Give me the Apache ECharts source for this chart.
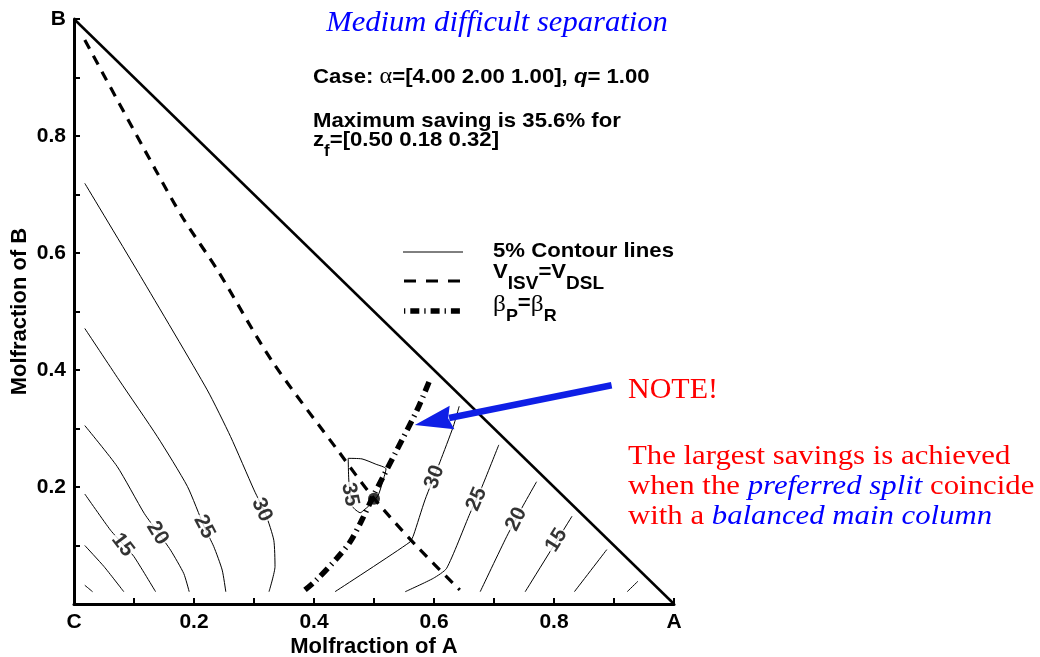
<!DOCTYPE html>
<html>
<head>
<meta charset="utf-8">
<script src="https://cdn.jsdelivr.net/npm/echarts@6/dist/echarts.min.js"></script>
<style>
  html, body { margin: 0; padding: 0; background: #fff; }
  #chart { width: 1040px; height: 657px; }
</style>
</head>
<body>
<div id="chart"></div>
<script>
// ---- axis tick labels (value -> text) ----
const xTickLabels = [[0, 'C'], [0.2, '0.2'], [0.4, '0.4'], [0.6, '0.6'], [0.8, '0.8'], [1, 'A']];
const yTickLabels = [[0.2, '0.2'], [0.4, '0.4'], [0.6, '0.6'], [0.8, '0.8'], [1, 'B']];

// ---- triangle edge between pure B and pure A ----
const edgeBA = [[0, 1], [1, 0]];

// ---- 5% saving contours, [x_A, x_B] ----
const left30 = [[0.018, 0.719], [0.111, 0.560], [0.222, 0.366], [0.261, 0.286], [0.300, 0.195], [0.320, 0.152], [0.333, 0.109], [0.335, 0.064], [0.325, 0.021]];
const left25 = [[0.018, 0.471], [0.075, 0.383], [0.139, 0.286], [0.189, 0.201], [0.217, 0.132], [0.233, 0.098], [0.247, 0.058], [0.253, 0.021]];
const left20 = [[0.018, 0.305], [0.072, 0.235], [0.117, 0.155], [0.141, 0.121], [0.161, 0.092], [0.183, 0.052], [0.192, 0.021]];
const left15 = [[0.018, 0.188], [0.061, 0.126], [0.083, 0.101], [0.100, 0.081], [0.136, 0.021]];
const left10 = [[0.018, 0.100], [0.050, 0.064], [0.083, 0.021]];
const left5 = [[0.018, 0.032], [0.031, 0.021]];
const right30 = [[0.435, 0.021], [0.560, 0.106], [0.566, 0.118], [0.585, 0.178], [0.610, 0.243], [0.632, 0.303], [0.642, 0.338]];
const right25 = [[0.552, 0.021], [0.599, 0.044], [0.621, 0.061], [0.660, 0.155], [0.679, 0.198], [0.708, 0.272]];
const right20 = [[0.677, 0.021], [0.721, 0.115], [0.749, 0.169], [0.771, 0.209]];
const right15 = [[0.752, 0.021], [0.830, 0.150]];
const right10 = [[0.834, 0.021], [0.888, 0.093]];
const right5 = [[0.922, 0.021], [0.940, 0.039]];
const peak35 = [[0.457, 0.249], [0.480, 0.248], [0.503, 0.239], [0.520, 0.231], [0.513, 0.204], [0.507, 0.186], [0.497, 0.173], [0.485, 0.162], [0.477, 0.156], [0.468, 0.162], [0.463, 0.169], [0.458, 0.212], [0.457, 0.249]];

// ---- contour labels: level, point on the contour ----
const contourLabels = [
  { level: 15, at: [0.081, 0.101], line: left15 },
  { level: 20, at: [0.139, 0.121], line: left20 },
  { level: 25, at: [0.217, 0.132], line: left25 },
  { level: 30, at: [0.313, 0.161], line: left30 },
  { level: 35, at: [0.460, 0.187], line: peak35 },
  { level: 30, at: [0.601, 0.217], line: right30 },
  { level: 25, at: [0.671, 0.179], line: right25 },
  { level: 20, at: [0.737, 0.145], line: right20 },
  { level: 15, at: [0.804, 0.109], line: right15 }
];

// ---- boundary where the two vapour flows are equal ----
const vEqual = [[0.018, 0.964], [0.136, 0.742], [0.182, 0.659], [0.239, 0.571], [0.329, 0.417], [0.443, 0.258], [0.498, 0.183], [0.570, 0.100], [0.643, 0.024]];
// ---- balanced main column, beta_P = beta_R ----
const betaEqual = [[0.385, 0.024], [0.404, 0.041], [0.438, 0.078], [0.460, 0.106], [0.480, 0.144], [0.498, 0.183], [0.515, 0.217], [0.538, 0.263], [0.572, 0.332], [0.593, 0.383]];

// ---- feed composition z_f ----
const feedPoint = [[0.50, 0.18]];

// ---- arrow from the note to the balanced-column line ----
const arrowFrom = [0.896, 0.374];
const arrowTo = [0.568, 0.306];

const SANS = "'Liberation Sans', Arial, Helvetica, sans-serif";
const SERIF = "'Liberation Serif', 'Times New Roman', serif";
const WIDE = 1.055;   // horizontal stretch of the bold annotation text

function tickFormatter(table) {
  return function (v) {
    for (const [t, s] of table) if (Math.abs(v - t) < 1e-6) return s;
    return '';
  };
}

const chart = echarts.init(document.getElementById('chart'), null, { renderer: 'canvas' });

const contourSeries = [left30, left25, left20, left15, left10, left5,
  right30, right25, right20, right15, right10, right5, peak35].map(function (pts) {
  return {
    type: 'line', data: pts, showSymbol: false, silent: true,
    lineStyle: { color: '#000', width: 1 }, smooth: 0.2, z: 2
  };
});

function axisBase() {
  return {
    type: 'value', min: 0, max: 1, interval: 0.1,
    axisLine: { show: true, onZero: false, lineStyle: { color: '#000', width: 3 } },
    axisTick: { show: true, inside: true, length: 6, lineStyle: { color: '#000', width: 2 } },
    splitLine: { show: false },
    axisLabel: { color: '#000', fontFamily: SANS, fontWeight: 'bold', fontSize: 21, margin: 8 },
    nameMoveOverlap: false,
    nameTextStyle: { color: '#000', fontFamily: SANS, fontWeight: 'bold', fontSize: 22 }
  };
}

const xAxis = axisBase();
xAxis.axisLabel.formatter = tickFormatter(xTickLabels);
xAxis.name = 'Molfraction of A';
xAxis.nameLocation = 'middle';
xAxis.nameGap = 32;

const yAxis = axisBase();
yAxis.axisLabel.formatter = tickFormatter(yTickLabels);
yAxis.name = 'Molfraction of B';
yAxis.nameLocation = 'middle';
yAxis.nameGap = 43;
yAxis.nameRotate = 90;

const option = {
  animation: false,
  backgroundColor: '#fff',
  grid: { left: 74, right: 366, top: 19, bottom: 53, containLabel: false, outerBoundsMode: 'none' },
  xAxis: xAxis,
  yAxis: yAxis,
  series: [
    {
      type: 'line', data: edgeBA, showSymbol: false, silent: true,
      lineStyle: { color: '#000', width: 2.5 }, z: 3
    }
  ].concat(contourSeries).concat([
    {
      type: 'line', data: vEqual, showSymbol: false, silent: true, smooth: 0.3,
      lineStyle: { color: '#000', width: 3.2, type: [10, 8] }, z: 4
    },
    {
      type: 'line', data: betaEqual, showSymbol: false, silent: true, smooth: 0.3,
      lineStyle: { color: '#000', width: 5.5, type: [10, 5, 1.3, 5] }, z: 5
    },
    {
      type: 'scatter', data: feedPoint, symbol: 'circle', symbolSize: 12, silent: true,
      itemStyle: { color: '#000' }, z: 6
    },
    {
      type: 'scatter', id: 'labels', symbolSize: 0, silent: true, z: 7,
      data: contourLabels.map(function (c) { return { value: c.at.concat([c.level]) }; }),
      label: {
        show: true, position: 'inside', formatter: function (p) { return String(p.value[2]); },
        color: '#000', fontFamily: SANS, fontWeight: 'bold', fontSize: 21,
        backgroundColor: '#fff', padding: [0, 1]
      }
    }
  ])
};

chart.setOption(option);

// label rotation follows the local direction of each contour
function toPx(p) { return chart.convertToPixel({ gridIndex: 0 }, p); }
function segAngle(line, at) {
  const p = toPx(at);
  let best = 0, bestD = Infinity;
  for (let i = 0; i < line.length - 1; i++) {
    const a = toPx(line[i]), b = toPx(line[i + 1]);
    const dx = b[0] - a[0], dy = b[1] - a[1];
    const len2 = dx * dx + dy * dy || 1;
    let t = ((p[0] - a[0]) * dx + (p[1] - a[1]) * dy) / len2;
    t = Math.max(0, Math.min(1, t));
    const qx = a[0] + t * dx - p[0], qy = a[1] + t * dy - p[1];
    const d = qx * qx + qy * qy;
    if (d < bestD) { bestD = d; best = i; }
  }
  const a = toPx(line[Math.max(0, best - 1)]), b = toPx(line[Math.min(line.length - 1, best + 1)]);
  let ang = -Math.atan2(b[1] - a[1], b[0] - a[0]) * 180 / Math.PI;
  if (ang > 90) ang -= 180;
  if (ang < -90) ang += 180;
  return ang;
}

// arrow in pixel space from its data anchors
const pFrom = toPx(arrowFrom), pTo = toPx(arrowTo);
const ux0 = pTo[0] - pFrom[0], uy0 = pTo[1] - pFrom[1];
const ul = Math.hypot(ux0, uy0);
const ux = ux0 / ul, uy = uy0 / ul, nx = -uy, ny = ux;
const headLen = 38, headHalf = 12;
const bx = pTo[0] - ux * headLen, by = pTo[1] - uy * headLen;
const ARROW_BLUE = '#0f1fe6';

// rich-text pieces: main text and lowered subscripts, both hung from the line top
const base = function (size) {
  return { fontFamily: SANS, fontWeight: 'bold', fontSize: size, lineHeight: size + 1, verticalAlign: 'top' };
};
const sub = function (size, drop) {
  return { fontFamily: SANS, fontWeight: 'bold', fontSize: size, lineHeight: size, padding: [drop, 0, 0, 0], verticalAlign: 'top' };
};

chart.setOption({
  series: [{
    id: 'labels',
    data: contourLabels.map(function (c) {
      return { value: c.at.concat([c.level]), label: { rotate: segAngle(c.line, c.at) } };
    })
  }],
  graphic: [
    // title
    { type: 'text', x: 497, y: 23, scaleX: 1.02, style: { text: 'Medium difficult separation', fill: '#0000ff', font: 'italic 30px ' + SERIF, align: 'center', verticalAlign: 'middle' } },
    // case description
    { type: 'text', x: 313, y: 77, scaleX: WIDE, style: {
      text: '{b|Case: }{g|\u03b1}{b|=[4.00 2.00 1.00], }{q|q}{b|= 1.00}',
      verticalAlign: 'middle', fill: '#000',
      rich: {
        b: { fontFamily: SANS, fontWeight: 'bold', fontSize: 21, fill: '#000' },
        g: { fontFamily: SERIF, fontSize: 23, fill: '#000' },
        q: { fontFamily: SANS, fontWeight: 'bold', fontStyle: 'italic', fontSize: 21, fill: '#000' }
      } } },
    { type: 'text', x: 313, y: 121, scaleX: WIDE, style: { text: 'Maximum saving is 35.6% for', font: 'bold 21px ' + SANS, fill: '#000', verticalAlign: 'middle' } },
    { type: 'text', x: 313, y: 130, scaleX: WIDE, style: {
      text: '{b|z}{s|f}{b|=[0.50 0.18 0.32]}', fill: '#000',
      rich: { b: base(21), s: sub(16, 14) } } },
    // legend samples
    { type: 'line', shape: { x1: 403, y1: 252, x2: 463, y2: 252 }, style: { stroke: '#000', lineWidth: 1 } },
    { type: 'line', shape: { x1: 404, y1: 281, x2: 464, y2: 281 }, style: { stroke: '#000', lineWidth: 3.2, lineDash: [12, 10] } },
    { type: 'line', shape: { x1: 404, y1: 311, x2: 464, y2: 311 }, style: { stroke: '#000', lineWidth: 5.5, lineDash: [1.3, 5, 9, 5] } },
    // legend texts
    { type: 'text', x: 493, y: 251, scaleX: WIDE, style: { text: '5% Contour lines', font: 'bold 21px ' + SANS, fill: '#000', verticalAlign: 'middle' } },
    { type: 'text', x: 493, y: 262, scaleX: WIDE, style: {
      text: '{b|V}{s|ISV}{b|=V}{s|DSL}', fill: '#000',
      rich: { b: base(21), s: sub(18, 13) } } },
    { type: 'text', x: 493, y: 293, scaleX: WIDE, style: {
      text: '{g|\u03b2}{s|P}{b|=}{g|\u03b2}{s|R}', fill: '#000',
      rich: {
        g: { fontFamily: SERIF, fontSize: 24, lineHeight: 24, verticalAlign: 'top' },
        b: { fontFamily: SANS, fontWeight: 'bold', fontSize: 21, lineHeight: 24, verticalAlign: 'top' },
        s: sub(17, 15)
      } } },
    // arrow
    { type: 'line', shape: { x1: pFrom[0], y1: pFrom[1], x2: bx + ux * 3, y2: by + uy * 3 }, style: { stroke: ARROW_BLUE, lineWidth: 6.5 }, z: 20 },
    { type: 'polygon', shape: { points: [[pTo[0], pTo[1]], [bx + nx * headHalf, by + ny * headHalf], [bx + ux * 4, by + uy * 4], [bx - nx * headHalf, by - ny * headHalf]] }, style: { fill: ARROW_BLUE }, z: 20 },
    // note
    { type: 'text', x: 628, y: 390, style: { text: 'NOTE!', font: '30px ' + SERIF, fill: '#ff0000', verticalAlign: 'middle' } },
    { type: 'text', x: 628, y: 442, scaleX: 1.14, style: {
      text: '{r|The largest savings is achieved}\n{r|when the }{i|preferred split}{r| coincide}\n{r|with a }{i|balanced main column}',
      rich: {
        r: { fontFamily: SERIF, fontSize: 27, lineHeight: 30, fill: '#ff0000' },
        i: { fontFamily: SERIF, fontStyle: 'italic', fontSize: 27, lineHeight: 30, fill: '#0000ff' }
      } } }
  ]
});
</script>
</body>
</html>
